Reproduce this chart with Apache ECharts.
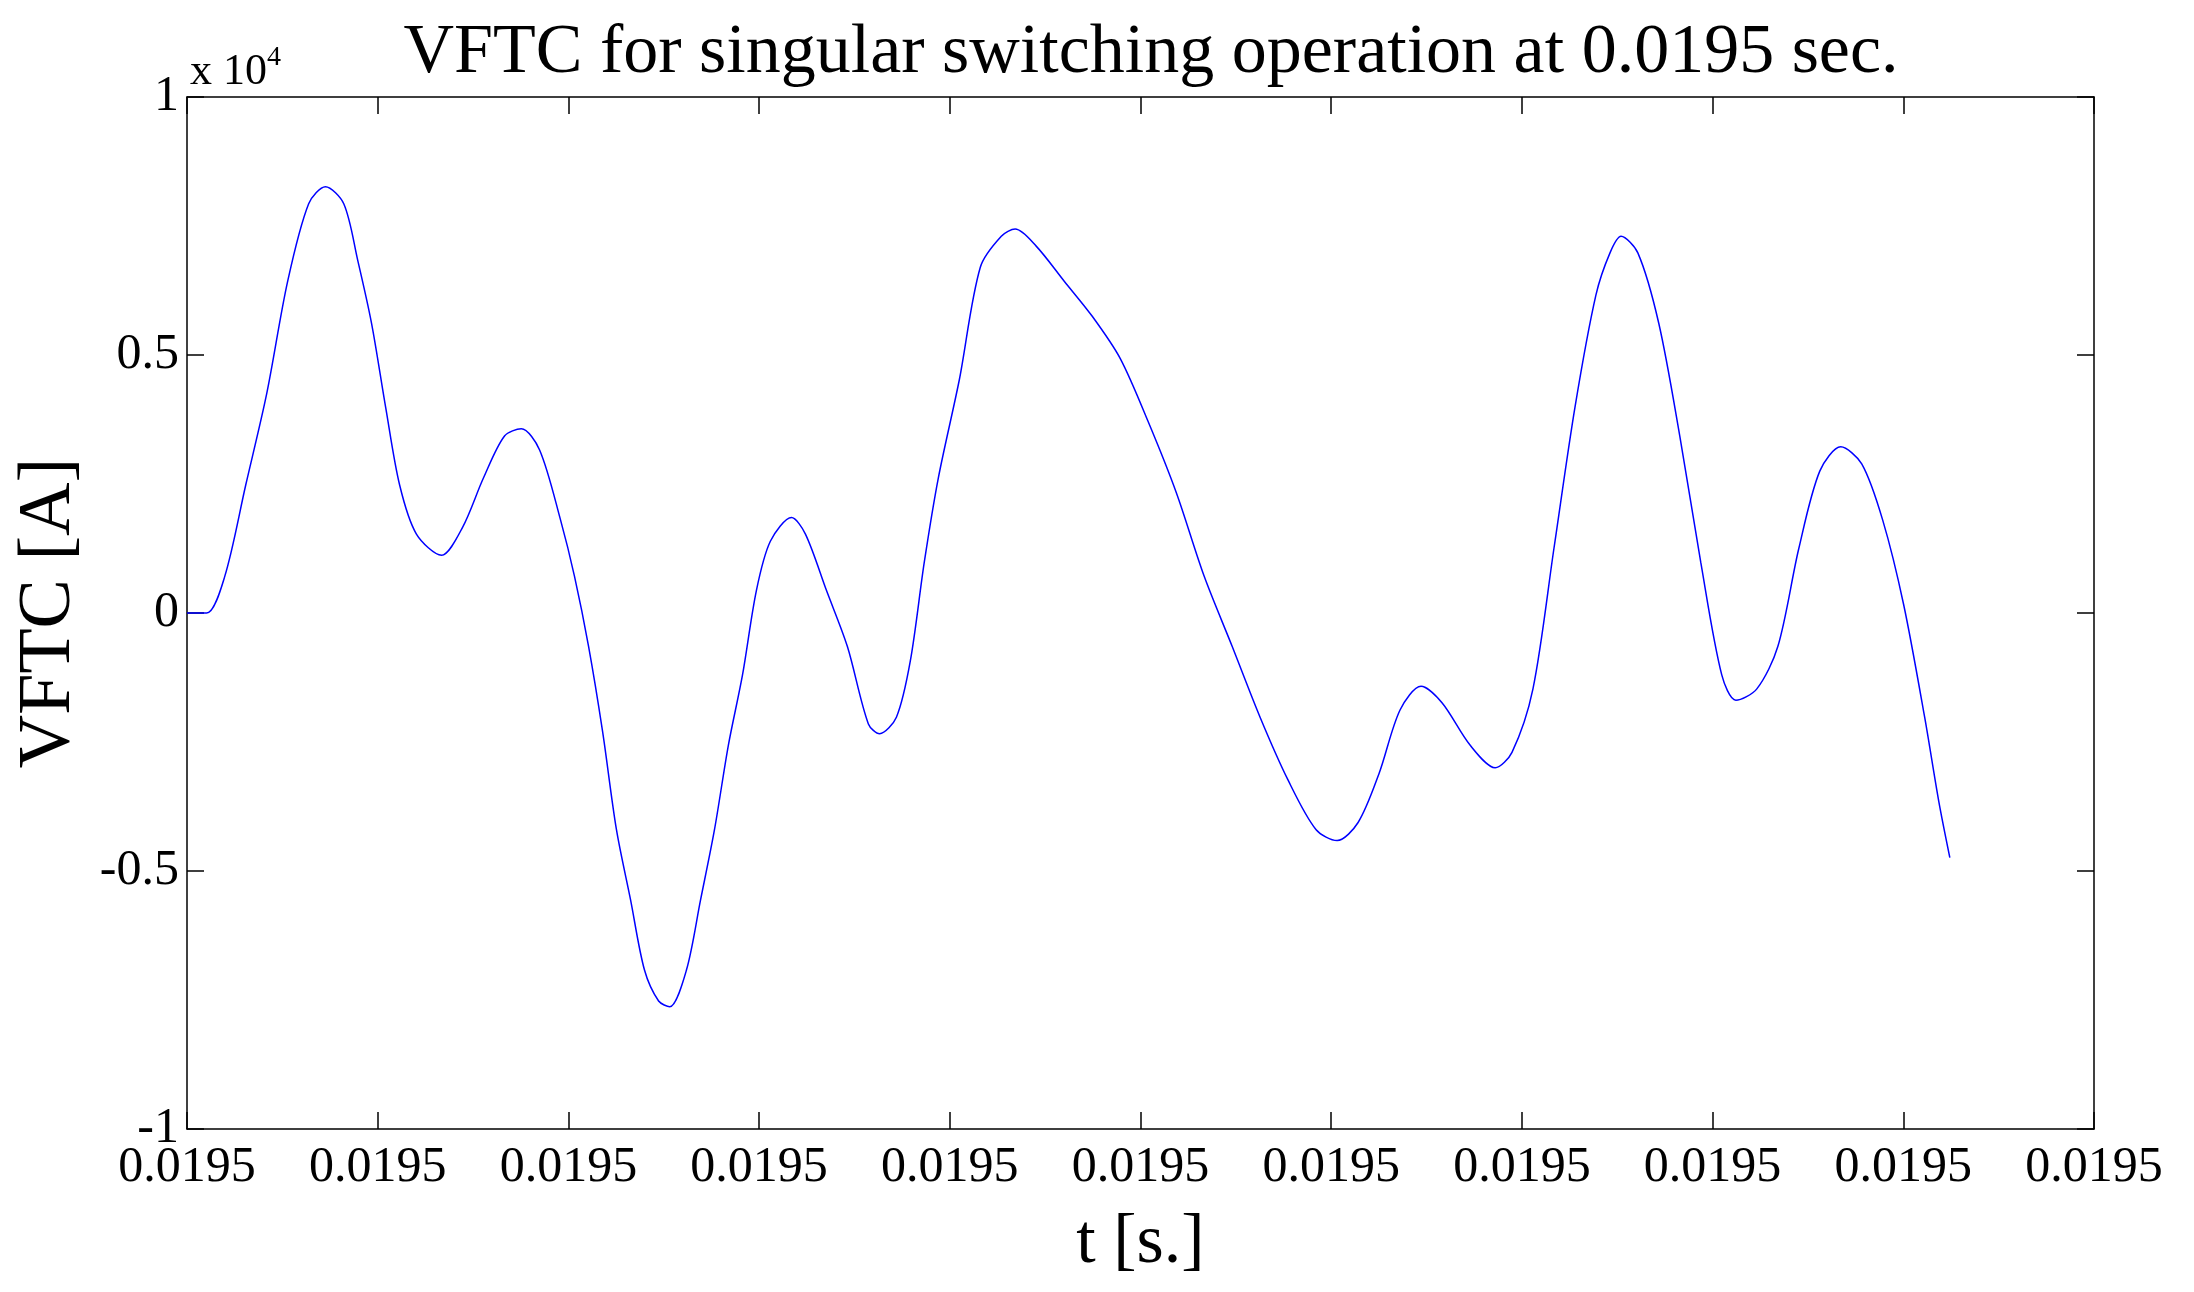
<!DOCTYPE html>
<html style="height: 100%">
<head>
    <meta charset="UTF-8">
    <title>VFTC</title>
    <script src="https://cdn.jsdelivr.net/npm/echarts/dist/echarts.min.js"></script>
</head>
<body style="height: 100%; margin: 0; background: #fff">
    <div id="main" style="width: 2194px; height: 1292px;"></div>
    <script>
        // time axis in tick units (every tick label reads 0.0195), current in 1e4 A
        var tValues = [0, 0.103, 0.198, 0.308, 0.418, 0.528, 0.638, 0.726, 0.822, 0.895, 0.968, 1.042, 1.115, 1.203, 1.335, 1.445, 1.555, 1.665, 1.753, 1.849, 1.959, 2.032, 2.106, 2.179, 2.252, 2.326, 2.399, 2.473, 2.531, 2.619, 2.693, 2.766, 2.839, 2.913, 2.986, 3.059, 3.170, 3.243, 3.353, 3.463, 3.573, 3.632, 3.720, 3.793, 3.866, 3.940, 4.050, 4.160, 4.270, 4.343, 4.453, 4.600, 4.747, 4.894, 5.040, 5.187, 5.334, 5.481, 5.627, 5.774, 5.921, 6.031, 6.141, 6.251, 6.361, 6.471, 6.581, 6.728, 6.860, 6.948, 7.058, 7.168, 7.278, 7.388, 7.462, 7.520, 7.608, 7.718, 7.828, 7.938, 8.048, 8.122, 8.232, 8.342, 8.452, 8.562, 8.672, 8.782, 8.892, 9.002, 9.112, 9.186, 9.244];
        var vftc = [0, 0, 0.071, 0.248, 0.425, 0.643, 0.793, 0.826, 0.793, 0.684, 0.561, 0.398, 0.248, 0.153, 0.112, 0.166, 0.262, 0.343, 0.357, 0.316, 0.180, 0.071, -0.065, -0.229, -0.420, -0.556, -0.692, -0.752, -0.763, -0.692, -0.556, -0.420, -0.256, -0.120, 0.044, 0.139, 0.185, 0.153, 0.044, -0.065, -0.215, -0.234, -0.202, -0.093, 0.098, 0.262, 0.452, 0.670, 0.730, 0.744, 0.711, 0.643, 0.575, 0.493, 0.371, 0.234, 0.071, -0.065, -0.202, -0.324, -0.420, -0.441, -0.406, -0.311, -0.188, -0.142, -0.174, -0.256, -0.300, -0.270, -0.147, 0.125, 0.398, 0.616, 0.698, 0.730, 0.698, 0.561, 0.343, 0.098, -0.120, -0.169, -0.147, -0.065, 0.125, 0.275, 0.322, 0.289, 0.180, 0.016, -0.202, -0.365, -0.474];
        var xTickLabel = '0.0195';
        var yTickLabels = {'-1': '-1', '-0.5': '-0.5', '0': '0', '0.5': '0.5', '1': '1'};

        var font = '"Liberation Serif", "DejaVu Serif", serif';
        var myChart = echarts.init(document.getElementById('main'));

        var seriesData = tValues.map(function (t, i) { return [t, vftc[i]]; });
        var lineStyle = { color: '#000', width: 1.5 };
        var tick = { inside: true, length: 17, lineStyle: lineStyle };

        var option = {
            animation: false,
            backgroundColor: '#fff',
            title: {
                text: 'VFTC for singular switching operation at 0.0195 sec.',
                left: 1146, top: 14, textAlign: 'center',
                textStyle: { fontFamily: font, fontSize: 70, fontWeight: 'normal', color: '#000' }
            },
            graphic: [{
                type: 'text', left: 190, top: 44,
                style: {
                    text: 'x 10{s|4}',
                    font: '44px ' + font, fill: '#000',
                    rich: { s: { fontSize: 28, fontFamily: font, verticalAlign: 'top', padding: [0, 0, 28, 0] } }
                }
            }],
            grid: { left: 187, right: 100, top: 97, bottom: 163, containLabel: false, outerBoundsMode: 'none' },
            xAxis: [{
                type: 'value', min: 0, max: 10, interval: 1,
                name: 't [s.]', nameLocation: 'middle', nameGap: 80,
                nameTextStyle: { fontFamily: font, fontSize: 70, color: '#000' },
                axisLine: { onZero: false, lineStyle: lineStyle },
                axisTick: tick,
                axisLabel: { margin: 14, fontFamily: font, fontSize: 50, color: '#000',
                    formatter: function () { return xTickLabel; } },
                splitLine: { show: false }
            }, {
                type: 'value', min: 0, max: 10, interval: 1, position: 'top',
                axisLine: { onZero: false, lineStyle: lineStyle },
                axisTick: tick,
                axisLabel: { show: false }, splitLine: { show: false }
            }],
            yAxis: [{
                type: 'value', min: -1, max: 1, interval: 0.5,
                name: 'VFTC [A]', nameLocation: 'middle', nameGap: 100,
                nameTextStyle: { fontFamily: font, fontSize: 74, color: '#000' },
                axisLine: { onZero: false, lineStyle: lineStyle },
                axisTick: tick,
                axisLabel: { margin: 8, fontFamily: font, fontSize: 50, color: '#000',
                    formatter: function (v) { return yTickLabels[String(v)]; } },
                splitLine: { show: false }
            }, {
                type: 'value', min: -1, max: 1, interval: 0.5, position: 'right',
                axisLine: { onZero: false, lineStyle: lineStyle },
                axisTick: tick,
                axisLabel: { show: false }, splitLine: { show: false }
            }],
            series: [{
                type: 'line',
                data: seriesData,
                smooth: 0.3,
                showSymbol: false,
                lineStyle: { color: '#0000ff', width: 1.5 }
            }]
        };

        myChart.setOption(option);
    </script>
</body>
</html>
